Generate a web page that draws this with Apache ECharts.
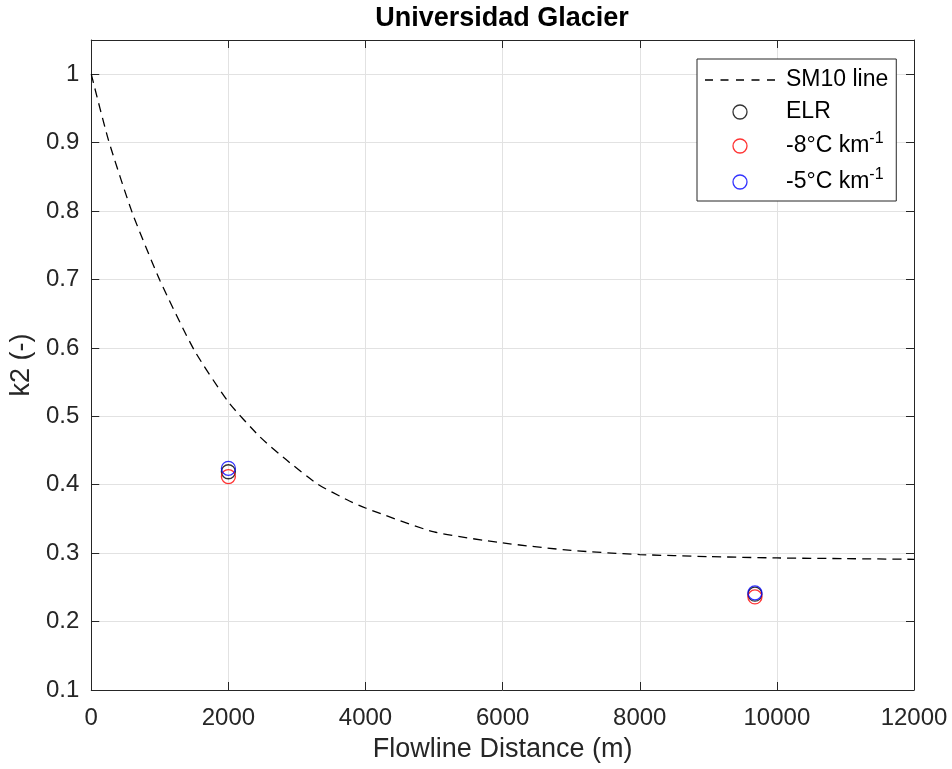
<!DOCTYPE html>
<html>
<head>
<meta charset="utf-8">
<script src="https://cdn.jsdelivr.net/npm/echarts@6/dist/echarts.min.js"></script>
<style>
html,body{margin:0;padding:0;background:#fff;}
#chart{width:952px;height:769px;}
</style>
</head>
<body>
<div id="chart"></div>
<script>
// ---- data ----
const sm10X = [0, 250, 600, 1000, 1500, 2000, 2460, 2850, 3300, 3730, 4000, 5000, 6000, 7000, 8000, 9000, 10000, 11000, 12000];
const sm10Y = [1.0, 0.904, 0.797, 0.699, 0.597, 0.521, 0.470, 0.436, 0.401, 0.378, 0.366, 0.331, 0.315, 0.304, 0.298, 0.295, 0.293, 0.292, 0.291];
const pointX = [2000, 9680];
const elrY = [0.419, 0.240];
const m8Y = [0.412, 0.236];
const m5Y = [0.424, 0.242];
const xTicks = [0, 2000, 4000, 6000, 8000, 10000, 12000];
const yTicks = [0.1, 0.2, 0.3, 0.4, 0.5, 0.6, 0.7, 0.8, 0.9, 1];
const seriesNames = ['SM10 line', 'ELR', '-8°C km-1', '-5°C km-1'];

const FONT = 'Liberation Sans, Arial, sans-serif';
const AX = '#262626';
const pair = (xs, ys) => xs.map((x, i) => [x, ys[i]]);

const chart = echarts.init(document.getElementById('chart'), null, {renderer: 'canvas'});

const baseX = {
  type: 'value', min: xTicks[0], max: xTicks[xTicks.length - 1], interval: 2000
};
const baseY = {
  type: 'value', min: yTicks[0], max: 1.05, interval: 0.1
};

const circleStyle = c => ({color: 'rgba(0,0,0,0)', borderColor: c, borderWidth: 1.3});
const dashIcon = 'path://M0,0h8v1.3h-8z M15.5,0h8v1.3h-8z M31,0h8v1.3h-8z M46.5,0h8v1.3h-8z M62,0h8v1.3h-8z';

const option = {
  backgroundColor: '#fff',
  animation: false,
  title: {
    text: 'Universidad Glacier',
    left: 502, top: 5, textAlign: 'center', padding: 0,
    textStyle: {fontFamily: FONT, fontWeight: 'bold', fontSize: 27, color: '#000'}
  },
  grid: {left: 91, right: 38, top: 40, bottom: 79, containLabel: false},
  xAxis: [
    Object.assign({}, baseX, {
      position: 'bottom',
      name: 'Flowline Distance (m)', nameLocation: 'middle', nameGap: 46,
      nameTextStyle: {fontFamily: FONT, fontSize: 27, color: AX},
      axisLine: {show: true, onZero: false, lineStyle: {color: AX, width: 1}},
      axisTick: {show: true, inside: true, length: 8, lineStyle: {color: AX}},
      axisLabel: {show: true, margin: 16, fontFamily: FONT, fontSize: 24, color: AX,
        formatter: v => String(v)},
      splitLine: {show: true, lineStyle: {color: '#e2e2e2', width: 1}}
    }),
    Object.assign({}, baseX, {
      position: 'top',
      axisLine: {show: true, onZero: false, lineStyle: {color: AX, width: 1}},
      axisTick: {show: true, inside: true, length: 8, lineStyle: {color: AX}},
      axisLabel: {show: false},
      splitLine: {show: false}
    })
  ],
  yAxis: [
    Object.assign({}, baseY, {
      position: 'left',
      name: 'k2 (-)', nameLocation: 'middle', nameGap: 56, nameRotate: 90,
      nameTextStyle: {fontFamily: FONT, fontSize: 27, color: AX},
      axisLine: {show: true, onZero: false, lineStyle: {color: AX, width: 1}},
      axisTick: {show: true, inside: true, length: 8, lineStyle: {color: AX}},
      axisLabel: {
        show: true, margin: 12, fontFamily: FONT, fontSize: 24, color: AX,
        showMaxLabel: false,
        formatter: v => String(parseFloat(Number(v).toFixed(2)))
      },
      splitLine: {show: true, lineStyle: {color: '#e2e2e2', width: 1}}
    }),
    Object.assign({}, baseY, {
      position: 'right',
      axisLine: {show: true, onZero: false, lineStyle: {color: AX, width: 1}},
      axisTick: {show: true, inside: true, length: 8, lineStyle: {color: AX}},
      axisLabel: {show: false},
      splitLine: {show: false}
    })
  ],
  legend: {
    orient: 'vertical',
    left: 697, top: 59,
    padding: [8, 8, 4, 8],
    itemWidth: 70, itemHeight: 14, itemGap: 6,
    backgroundColor: '#fff',
    borderColor: AX, borderWidth: 1, borderRadius: 0,
    selectedMode: false,
    data: [
      {name: seriesNames[0], icon: dashIcon, itemStyle: {color: '#000', borderWidth: 0}},
      {name: seriesNames[1], icon: 'circle', itemStyle: circleStyle('#000')},
      {name: seriesNames[2], icon: 'circle', itemStyle: circleStyle('#ff0000')},
      {name: seriesNames[3], icon: 'circle', itemStyle: circleStyle('#0000ff')}
    ],
    formatter: name => {
      if (name.endsWith('km-1')) return '{m|' + name.slice(0, -2) + '}{s|-1}';
      return '{m|' + name + '}';
    },
    textStyle: {
      fontFamily: FONT, fontSize: 23, color: '#000', padding: [0, 0, 0, 6], lineHeight: 26,
      rich: {
        m: {fontFamily: FONT, fontSize: 23, color: '#000', lineHeight: 26, verticalAlign: 'middle'},
        s: {fontFamily: FONT, fontSize: 16, color: '#000', lineHeight: 16, padding: [0, 0, 14, 0], verticalAlign: 'middle'}
      }
    }
  },
  series: [
    {
      name: seriesNames[0], type: 'line', xAxisIndex: 0, yAxisIndex: 0,
      data: pair(sm10X, sm10Y), symbol: 'none', showSymbol: false, smooth: 0.2,
      lineStyle: {color: '#000', width: 1.3, type: [9, 6]},
      itemStyle: {color: '#000'}, z: 2
    },
    {
      name: seriesNames[1], type: 'scatter', xAxisIndex: 0, yAxisIndex: 0,
      data: pair(pointX, elrY), symbol: 'circle', symbolSize: 14,
      itemStyle: circleStyle('#000'), z: 3
    },
    {
      name: seriesNames[2], type: 'scatter', xAxisIndex: 0, yAxisIndex: 0,
      data: pair(pointX, m8Y), symbol: 'circle', symbolSize: 14,
      itemStyle: circleStyle('#ff0000'), z: 4
    },
    {
      name: seriesNames[3], type: 'scatter', xAxisIndex: 0, yAxisIndex: 0,
      data: pair(pointX, m5Y), symbol: 'circle', symbolSize: 14,
      itemStyle: circleStyle('#0000ff'), z: 5
    }
  ]
};
chart.setOption(option);
</script>
</body>
</html>
